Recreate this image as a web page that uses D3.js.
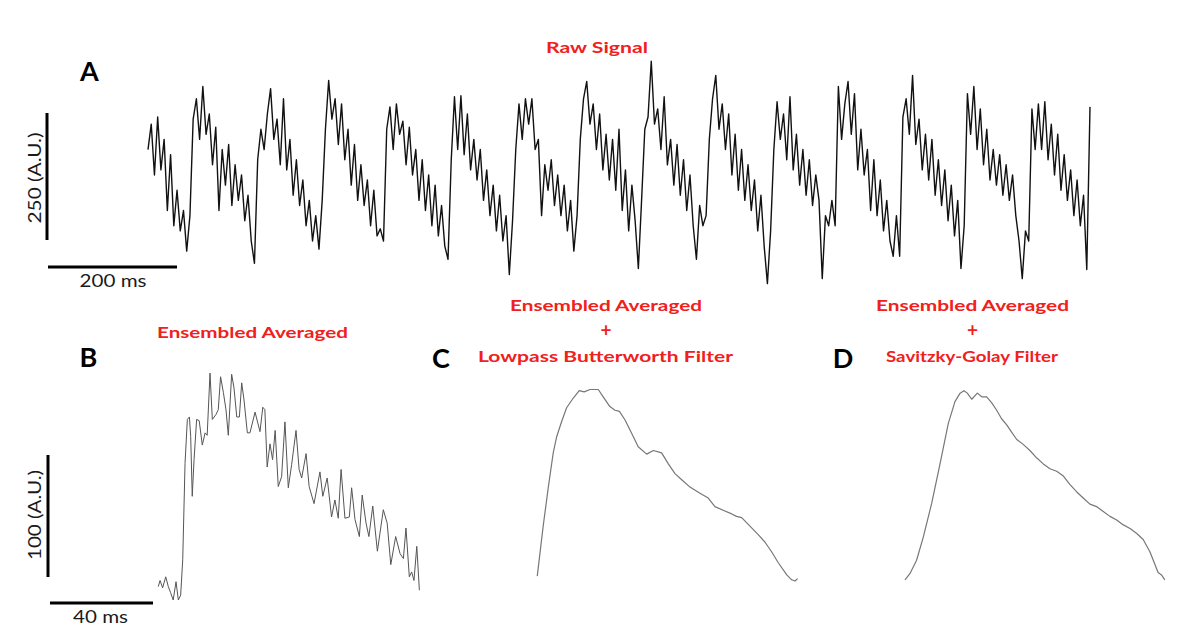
<!DOCTYPE html>
<html>
<head>
<meta charset="utf-8">
<script src="https://cdn.jsdelivr.net/npm/d3@7"></script>
<style>
body { margin: 0; background: #fff; }
svg { display: block; font-family: Lato, "Open Sans", sans-serif; }
</style>
</head>
<body>
<svg id="fig" width="1200" height="636"></svg>
<script>
// A: raw signal, one sample every 5 ms (A.U.), one row per beat
var rawDt = 5;
var rawSignal = [
  280,330,230,344,240,300,160,270,130,200,120,160,80,150,
  340,380,300,404,310,350,250,324,160,280,210,290,170,250,180,230,140,190,100,56,
  260,320,280,350,400,300,340,250,380,240,300,190,260,170,220,130,180,100,150,84,
  180,320,416,340,380,290,370,260,320,210,290,180,250,170,220,130,200,110,124,100,
  320,364,280,370,310,336,250,324,230,280,180,260,160,230,130,210,110,170,90,64,
  260,384,280,386,270,350,240,300,220,280,180,240,150,210,120,190,100,150,34,140,
  280,370,300,380,330,380,280,300,150,250,200,260,170,230,150,210,120,180,80,150,
  300,380,414,330,370,280,350,240,310,220,300,200,320,160,240,120,210,140,46,180,
  320,344,454,330,360,280,384,250,300,210,290,190,260,160,230,130,64,170,130,150,
  300,380,426,320,370,280,350,230,310,200,280,180,250,160,220,120,190,90,16,120,
  280,374,300,350,260,384,240,310,210,280,190,260,170,230,180,26,150,130,180,130,
  404,300,370,414,310,390,240,320,230,280,160,260,150,220,120,180,100,70,150,70,
  344,380,310,426,290,340,240,310,220,300,190,260,170,240,140,210,110,180,46,130,
  390,310,404,280,360,250,320,220,280,210,270,190,250,180,230,150,100,26,120,100,
  360,280,370,280,374,260,330,230,310,200,270,180,240,150,220,130,190,44,364
];

// B: ensemble averaged beat
var bTime = [0.1,0.8,1.8,3.0,4.0,4.9,5.9,7.0,7.9,8.8,9.6,10.5,11.4,12.2,12.7,13.3,14.0,15.0,16.0,17.2,
  18.3,19.1,20.2,21.1,22.5,23.4,24.3,25.4,26.4,27.3,28.6,29.5,30.6,31.6,32.5,33.4,34.7,35.7,37.7,39.6,
  40.7,41.5,42.4,43.5,44.5,45.5,46.7,48.0,49.3,50.6,51.9,53.6,54.8,55.8,57.5,58.7,60.6,62.9,64.0,65.7,
  67.4,68.7,70.0,71.1,72.6,74.3,75.2,76.5,78.2,79.3,80.8,81.9,83.4,85.2,87.5,89.0,90.4,92.3,94.0,95.3,
  96.3,97.6,98.5,99.4,100.5,101.5];
var bValue = [11,16,10,19,11,6,0,15,0,4,33,112,148,150,134,85,115,148,147,127,
  137,135,186,148,152,156,183,170,156,135,185,174,150,150,178,164,137,137,154,138,
  158,156,109,128,115,139,93,101,146,92,111,139,107,100,120,93,79,105,85,100,
  68,82,67,107,67,68,92,66,52,86,63,52,77,40,74,63,29,52,38,34,
  59,19,23,16,44,8];

// C: ensemble averaged + lowpass Butterworth
var cTime = [0.1,2.4,4.4,6.3,7.6,9.6,11.5,14.1,16.4,18.3,20.6,23.8,25.7,28.3,30.3,32.0,34.2,36.8,39.3,42.6,
  45.2,48.4,51.0,53.6,56.2,59.4,63.3,66.5,69.1,72.3,75.6,77.5,79.5,82.7,85.9,88.5,91.1,93.7,97.0,98.9,
  100.2,101.2];
var cValue = [13,54,86,114,127,140,151,159,165,164,166,166,160,152,149,148,141,130,119,113,
  116,114,105,97,92,86,81,77,70,67,64,62,61,54,47,41,33,24,14,10,
  9,11];

// D: ensemble averaged + Savitzky-Golay
var dTime = [0,1.9,4.5,7.1,10.4,13.6,16.8,19.4,21.4,22.9,24.2,25.9,28.1,29.8,31.7,33.7,35.6,37.5,39.5,41.4,
  43.4,45.9,48.5,51.1,53.7,56.3,58.9,61.5,64.1,66.7,69.2,71.8,74.4,77.0,79.6,82.2,84.8,87.4,90.0,92.5,
  95.1,96.8,98.3,99.6,100.9];
var dValue = [10,15,26,45,73,105,138,156,163,165,163,158,163,160,160,155,149,142,137,131,
  125,121,116,110,105,101,99,95,88,82,77,72,70,66,62,59,55,52,48,43,
  33,24,16,14,10];

var svg = d3.select("#fig");
var red = "#f0201c";
var ink = "#1a1a1a";

function label(x, y, txt, size, color, weight, len) {
  var t = svg.append("text")
      .attr("x", x)
      .attr("y", y)
      .attr("text-anchor", "middle")
      .style("font-size", size + "px")
      .style("font-weight", weight)
      .attr("fill", color)
      .text(txt);
  if (len) t.attr("textLength", len).attr("lengthAdjust", "spacingAndGlyphs");
  return t;
}

function trace(times, values, x, y, color, w) {
  var line = d3.line()
      .x(function (d, i) { return x(times[i]); })
      .y(function (d) { return y(d); });
  svg.append("path")
      .datum(values)
      .attr("d", line)
      .attr("fill", "none")
      .attr("stroke", color)
      .attr("stroke-width", w)
      .attr("stroke-linejoin", "round");
}

function bar(x1, y1, x2, y2) {
  svg.append("line")
      .attr("x1", x1).attr("y1", y1)
      .attr("x2", x2).attr("y2", y2)
      .attr("stroke", "#000")
      .attr("stroke-width", 3);
}

// ---- panel A
var xA = d3.scaleLinear().domain([0, 1460]).range([148, 1090]);
var yA = d3.scaleLinear().domain([0, 450]).range([291.8, 63.2]);

var rawTime = rawSignal.map(function (d, i) { return i * rawDt; });
trace(rawTime, rawSignal, xA, yA, "#111", 1.4);

bar(47, 240, 47, 240 - (yA(0) - yA(250)));
bar(48, 267, 48 + xA(200) - xA(0), 267);
label(113, 287, "200 ms", 17, ink, "normal", 67);
label(0, 0, "250 (A.U.)", 17, ink, "normal", 91)
    .attr("transform", "translate(41,178) rotate(-90)");
label(89.5, 81, "A", 27, "#000", "bold");
label(597, 53, "Raw Signal", 16, red, "bold", 102);

// ---- panels B, C, D share 40 ms = 103 px and 100 A.U. = 122 px
var xB = d3.scaleLinear().domain([0, 40]).range([158, 261]);
var yB = d3.scaleLinear().domain([0, 100]).range([600, 478]);
var xC = d3.scaleLinear().domain([0, 40]).range([537, 640]);
var xD = d3.scaleLinear().domain([0, 40]).range([905, 1008]);
var yCD = d3.scaleLinear().domain([0, 100]).range([592, 470]);

trace(bTime, bValue, xB, yB, "#555", 1);
trace(cTime, cValue, xC, yCD, "#777", 1.2);
trace(dTime, dValue, xD, yCD, "#777", 1.2);

bar(48, 577, 48, 577 - (yB(0) - yB(100)));
bar(50, 603, 50 + xB(40) - xB(0), 603);
label(100.5, 623, "40 ms", 17, ink, "normal", 55);
label(0, 0, "100 (A.U.)", 17, ink, "normal", 90)
    .attr("transform", "translate(41,515) rotate(-90)");

label(88.5, 367, "B", 27, "#000", "bold");
label(441, 368, "C", 27, "#000", "bold");
label(843, 368, "D", 27, "#000", "bold");

label(252.5, 338, "Ensembled Averaged", 16, red, "bold", 191);

label(606, 311, "Ensembled Averaged", 16, red, "bold", 192);
label(606, 337, "+", 19, red, "bold");
label(605.5, 362, "Lowpass Butterworth Filter", 16, red, "bold", 255);

label(972.5, 311, "Ensembled Averaged", 16, red, "bold", 193);
label(972.5, 337, "+", 19, red, "bold");
label(972, 362, "Savitzky-Golay Filter", 16, red, "bold", 172);
</script>
</body>
</html>
